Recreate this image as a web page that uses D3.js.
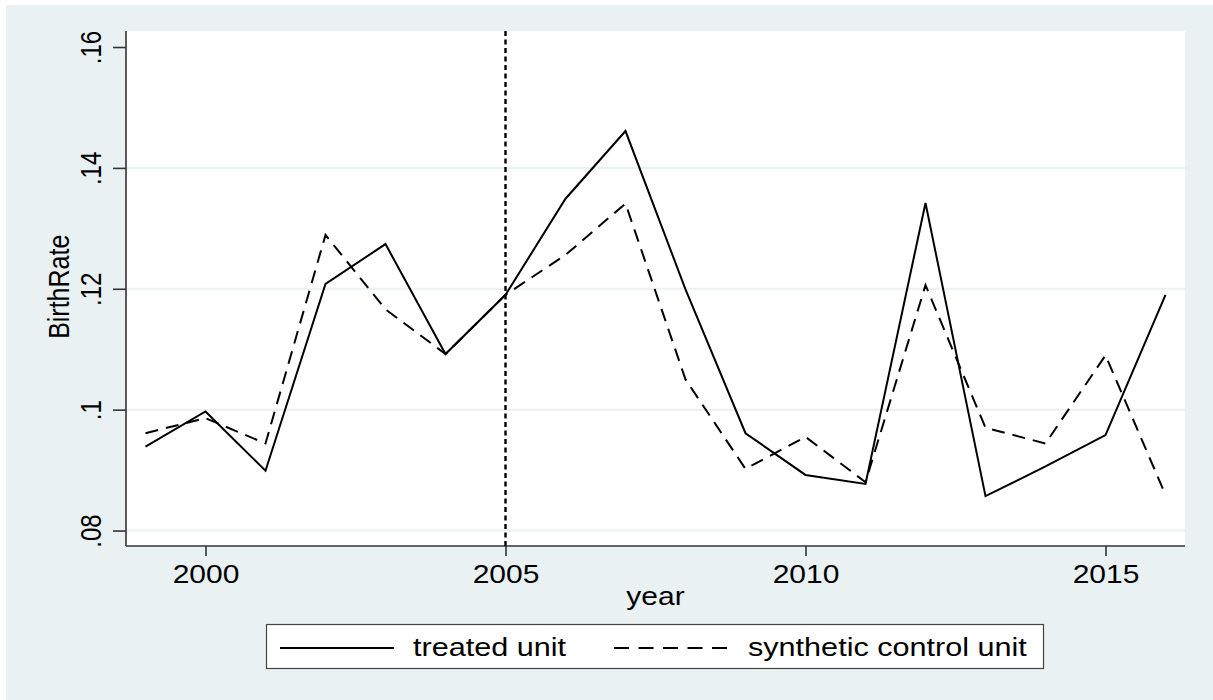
<!DOCTYPE html>
<html>
<head>
<meta charset="utf-8">
<script src="https://cdn.jsdelivr.net/npm/d3@7"></script>
<style>
  html, body { margin: 0; padding: 0; background: #ffffff; }
  svg { display: block; }
  text { font-family: "Liberation Sans", Arial, sans-serif; fill: #000; }
</style>
</head>
<body>
<svg id="chart" width="1213" height="700"></svg>
<script>
// Birth rate: treated unit vs. synthetic control unit, 1999-2016
const years = [1999, 2000, 2001, 2002, 2003, 2004, 2005, 2006, 2007, 2008,
               2009, 2010, 2011, 2012, 2013, 2014, 2015, 2016];
const treated = [0.0939, 0.0997, 0.0899, 0.1208, 0.1274, 0.1092, 0.1190, 0.1349, 0.1461,
                 0.1199, 0.0961, 0.0892, 0.0877, 0.1342, 0.0857, 0.0906, 0.0958, 0.1190];
const synthetic = [0.0961, 0.0986, 0.0944, 0.1289, 0.1166, 0.1092, 0.1190, 0.1256, 0.1341,
                   0.1050, 0.0902, 0.0955, 0.0880, 0.1206, 0.0970, 0.0944, 0.1090, 0.0859];
const treatmentYear = 2005;

const xTicks = [2000, 2005, 2010, 2015];
const xTickLabels = ["2000", "2005", "2010", "2015"];
const yTicks = [0.08, 0.10, 0.12, 0.14, 0.16];
const yTickLabels = [".08", ".1", ".12", ".14", ".16"];
const yGridTicks = [0.08, 0.10, 0.12, 0.14];

const seriesNames = ["treated unit", "synthetic control unit"];
const xTitle = "year";
const yTitle = "BirthRate";

// Layout
const W = 1213, H = 700;
const plot = { left: 126, top: 31, right: 1185, bottom: 546 };
const stretch = 1.2;           // horizontal text stretch
const fontSize = 25;

const svg = d3.select("#chart");

// Graph region background
svg.append("rect").attr("x", 6).attr("y", 5)
  .attr("width", W - 6).attr("height", H - 5)
  .attr("fill", "#e9f1f3");

// Plot region
svg.append("rect")
  .attr("x", plot.left).attr("y", plot.top)
  .attr("width", plot.right - plot.left).attr("height", plot.bottom - plot.top)
  .attr("fill", "#ffffff");

const x = d3.scaleLinear().domain([1998.675, 2016.325]).range([plot.left, plot.right]);
const y = d3.scaleLinear().domain([0.07744, 0.16265]).range([plot.bottom, plot.top]);

// Horizontal grid lines
svg.append("g").selectAll("line").data(yGridTicks).join("line")
  .attr("x1", plot.left).attr("x2", plot.right)
  .attr("y1", d => y(d)).attr("y2", d => y(d))
  .attr("stroke", "#e9f1f3").attr("stroke-width", 2);

// Y axis
const yAxis = svg.append("g")
  .attr("transform", `translate(${plot.left},0)`)
  .call(d3.axisLeft(y).tickValues(yTicks)
    .tickFormat((d, i) => yTickLabels[i]).tickSize(13).tickSizeOuter(0));
yAxis.select(".domain").remove();
yAxis.append("line")
  .attr("x1", 0).attr("x2", 0).attr("y1", plot.top).attr("y2", plot.bottom)
  .attr("stroke", "#333").attr("stroke-width", 1.6);
yAxis.selectAll(".tick line").attr("stroke", "#333").attr("stroke-width", 1.6);
yAxis.selectAll(".tick text")
  .attr("x", null).attr("dy", null)
  .attr("transform", `translate(-25,0) scale(${stretch},1) rotate(-90)`)
  .attr("text-anchor", "middle")
  .style("font-size", "24px")
  .style("font-family", "'Liberation Sans', Arial, sans-serif")
  .attr("fill", "#000");

// X axis
const xAxis = svg.append("g")
  .attr("transform", `translate(0,${plot.bottom})`)
  .call(d3.axisBottom(x).tickValues(xTicks)
    .tickFormat((d, i) => xTickLabels[i]).tickSize(10).tickSizeOuter(0));
xAxis.select(".domain").remove();
xAxis.append("line")
  .attr("x1", plot.left).attr("x2", plot.right).attr("y1", 0).attr("y2", 0)
  .attr("stroke", "#333").attr("stroke-width", 1.6);
xAxis.selectAll(".tick line").attr("stroke", "#333").attr("stroke-width", 1.6);
xAxis.selectAll(".tick text")
  .attr("y", 37).attr("dy", null)
  .attr("transform", `scale(${stretch},1)`)
  .attr("text-anchor", "middle")
  .style("font-size", fontSize + "px")
  .style("font-family", "'Liberation Sans', Arial, sans-serif")
  .attr("fill", "#000");

// Axis titles
svg.append("text")
  .attr("transform", `translate(${(plot.left + plot.right) / 2},605) scale(${stretch},1)`)
  .attr("text-anchor", "middle")
  .style("font-size", fontSize + "px")
  .text(xTitle);
svg.append("text")
  .attr("transform", `translate(69,${(y(0.08) + y(0.16)) / 2 - 2}) scale(${stretch},1) rotate(-90)`)
  .attr("text-anchor", "middle")
  .style("font-size", fontSize + "px")
  .text(yTitle);

// Treatment year marker
svg.append("line")
  .attr("x1", x(treatmentYear)).attr("x2", x(treatmentYear))
  .attr("y1", plot.top).attr("y2", plot.bottom)
  .attr("stroke", "#000").attr("stroke-width", 2.4)
  .attr("stroke-dasharray", "5,3.5");

// Series lines
const line = (vals) => d3.line()
  .x((d, i) => x(years[i]))
  .y(d => y(d))(vals);

svg.append("path")
  .attr("d", line(synthetic))
  .attr("fill", "none").attr("stroke", "#000").attr("stroke-width", 2)
  .attr("stroke-dasharray", "13,8");

svg.append("path")
  .attr("d", line(treated))
  .attr("fill", "none").attr("stroke", "#000").attr("stroke-width", 2)
  .attr("stroke-linejoin", "miter");

// Legend
const legend = svg.append("g");
legend.append("rect")
  .attr("x", 266.5).attr("y", 624.5).attr("width", 777).attr("height", 44)
  .attr("fill", "#fff").attr("stroke", "#444").attr("stroke-width", 1.2);
legend.append("line")
  .attr("x1", 280).attr("x2", 394).attr("y1", 648).attr("y2", 648)
  .attr("stroke", "#000").attr("stroke-width", 2.2);
legend.append("text")
  .attr("transform", `translate(413,656) scale(${stretch},1)`)
  .style("font-size", "25.5px")
  .text(seriesNames[0]);
legend.append("line")
  .attr("x1", 614).attr("x2", 727).attr("y1", 648).attr("y2", 648)
  .attr("stroke", "#000").attr("stroke-width", 2.2)
  .attr("stroke-dasharray", "15,9.5");
legend.append("text")
  .attr("transform", `translate(748,656) scale(${stretch},1)`)
  .style("font-size", "25.5px")
  .text(seriesNames[1]);
</script>
</body>
</html>
